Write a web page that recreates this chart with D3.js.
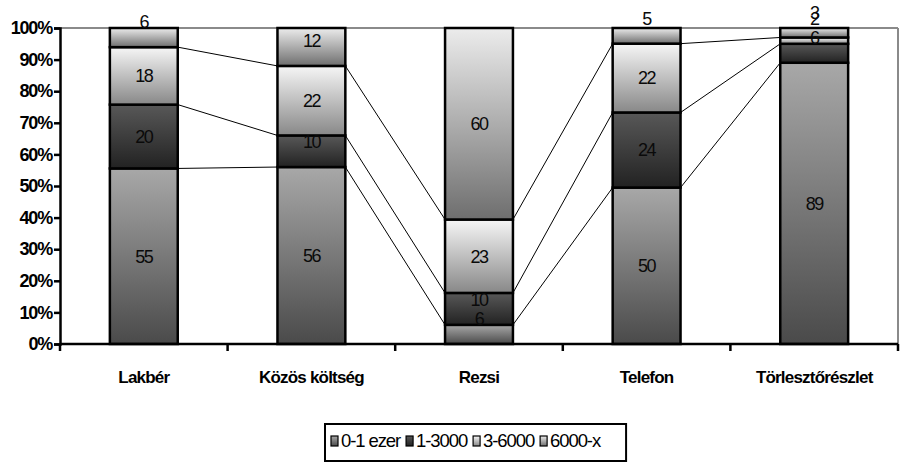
<!DOCTYPE html>
<html><head><meta charset="utf-8">
<script src="https://cdn.jsdelivr.net/npm/d3@7"></script>
<style>body{margin:0;background:#fff}svg{display:block}</style>
</head><body><svg id="c" width="918" height="468"></svg>
<script>
const categories = ["Lakbér", "Közös költség", "Rezsi", "Telefon", "Törlesztőrészlet"];
const seriesNames = ["0-1 ezer", "1-3000", "3-6000", "6000-x"];
const s01ezer  = [55, 56, 6, 50, 89];
const s13000   = [20, 10, 10, 24, 6];
const s36000   = [18, 22, 23, 22, 2];
const s6000x   = [6, 12, 60, 5, 3];
const yTicks   = [0, 10, 20, 30, 40, 50, 60, 70, 80, 90, 100];

const seriesVals = [s01ezer, s13000, s36000, s6000x];
const grads = [["#a8a8a8", "#4a4a4a"], ["#585858", "#222"], ["#f6f6f6", "#888"], ["#ececec", "#6e6e6e"]];

const svg = d3.select("#c");
const M = {l: 60, r: 20, t: 28, b: 124};
const W = 918, H = 468;
const x = d3.scaleBand().domain(categories).range([M.l, W - M.r]).paddingInner(0.595).paddingOuter(0.2975);
const y = d3.scaleLinear().domain([0, 100]).range([H - M.b, M.t]);

const defs = svg.append("defs");
grads.forEach((g, i) => {
  const lg = defs.append("linearGradient").attr("id", "g" + i).attr("x1", 0).attr("y1", 0).attr("x2", 0).attr("y2", 1);
  lg.append("stop").attr("offset", 0).attr("stop-color", g[0]);
  lg.append("stop").attr("offset", 1).attr("stop-color", g[1]);
});

// normalized stacking
const rows = categories.map((c, j) => {
  const o = {cat: c};
  seriesNames.forEach((s, i) => o[s] = seriesVals[i][j]);
  return o;
});
const stack = d3.stack().keys(seriesNames).offset(d3.stackOffsetExpand);
const stacked = stack(rows);

// plot border (top/right grey)
svg.append("line").attr("x1", M.l).attr("x2", W - M.r).attr("y1", y(100)).attr("y2", y(100)).attr("stroke", "#8a8a8a").attr("stroke-width", 2);
svg.append("line").attr("x1", W - M.r).attr("x2", W - M.r).attr("y1", y(100)).attr("y2", y(0)).attr("stroke", "#8a8a8a").attr("stroke-width", 2);

// series lines
const gl = svg.append("g");
for (let k = 0; k < seriesNames.length - 1; k++) {
  for (let j = 0; j < categories.length - 1; j++) {
    const a = stacked[k][j][1] * 100, b = stacked[k][j + 1][1] * 100;
    gl.append("line")
      .attr("x1", x(categories[j]) + x.bandwidth()).attr("y1", y(a))
      .attr("x2", x(categories[j + 1])).attr("y2", y(b))
      .attr("stroke", "#000").attr("stroke-width", 1);
  }
}

// bars
stacked.forEach((ser, i) => {
  svg.append("g").selectAll("rect").data(ser).join("rect")
    .attr("x", d => x(d.data.cat))
    .attr("width", x.bandwidth())
    .attr("y", d => y(d[1] * 100))
    .attr("height", d => y(d[0] * 100) - y(d[1] * 100))
    .attr("fill", `url(#g${i})`)
    .attr("stroke", "#000").attr("stroke-width", 2.5);
});

// value labels
stacked.forEach((ser, i) => {
  svg.append("g").selectAll("text").data(ser).join("text")
    .attr("x", d => x(d.data.cat) + x.bandwidth() / 2)
    .attr("y", d => Math.min((y(d[0] * 100) + y(d[1] * 100)) / 2, y(d[0] * 100) - 25))
    .attr("dy", "0.35em")
    .attr("text-anchor", "middle")
    .attr("font-family", "Liberation Sans, Arial, sans-serif")
    .attr("font-size", 18).attr("letter-spacing", -1.5)
    .attr("fill", "#0a0a0a")
    .text(d => d.data[ser.key]);
});

// y axis
const ya = svg.append("g").attr("transform", `translate(${M.l},0)`)
  .call(d3.axisLeft(y).tickValues(yTicks).tickSize(6).tickPadding(2).tickFormat(d => d + "%"));
ya.select(".domain").attr("stroke", "#000").attr("stroke-width", 2.5);
ya.selectAll(".tick line").attr("stroke", "#000").attr("stroke-width", 2.5);
ya.selectAll("text").attr("font-family", "Liberation Sans, Arial, sans-serif").attr("font-size", 18)
  .attr("font-weight", "bold").attr("letter-spacing", -1.2).attr("fill", "#000");

// x axis
const xa = svg.append("g").attr("transform", `translate(0,${y(0)})`);
xa.append("line").attr("x1", M.l).attr("x2", W - M.r).attr("stroke", "#000").attr("stroke-width", 2.5);
d3.range(categories.length + 1).forEach(k => {
  const px = M.l + k * (W - M.l - M.r) / categories.length;
  xa.append("line").attr("x1", px).attr("x2", px).attr("y1", 0).attr("y2", 7).attr("stroke", "#000").attr("stroke-width", 2.5);
});
xa.selectAll("text.cat").data(categories).join("text").attr("class", "cat")
  .attr("x", d => x(d) + x.bandwidth() / 2).attr("y", 39)
  .attr("text-anchor", "middle")
  .attr("font-family", "Liberation Sans, Arial, sans-serif").attr("font-size", 17)
  .attr("font-weight", "bold").attr("letter-spacing", -0.8).attr("fill", "#000")
  .text(d => d);

// legend
const lg = svg.append("g");
const box = lg.append("rect").attr("fill", "#fff").attr("stroke", "#000").attr("stroke-width", 2);
let cx = 331;
const ly = 441;
seriesNames.forEach((s, i) => {
  lg.append("rect").attr("x", cx).attr("y", ly - 5).attr("width", 7).attr("height", 10)
    .attr("fill", `url(#g${i})`).attr("stroke", "#000").attr("stroke-width", 1.2);
  const t = lg.append("text").attr("x", cx + 10).attr("y", ly).attr("dy", "0.35em")
    .attr("font-family", "Liberation Sans, Arial, sans-serif").attr("font-size", 18.5).attr("letter-spacing", -1.1)
    .attr("fill", "#000").text(s);
  cx += 10 + t.node().getComputedTextLength() + 6;
});
box.attr("x", 325).attr("y", 424).attr("width", cx - 325 + 20).attr("height", 37);
</script></body></html>
